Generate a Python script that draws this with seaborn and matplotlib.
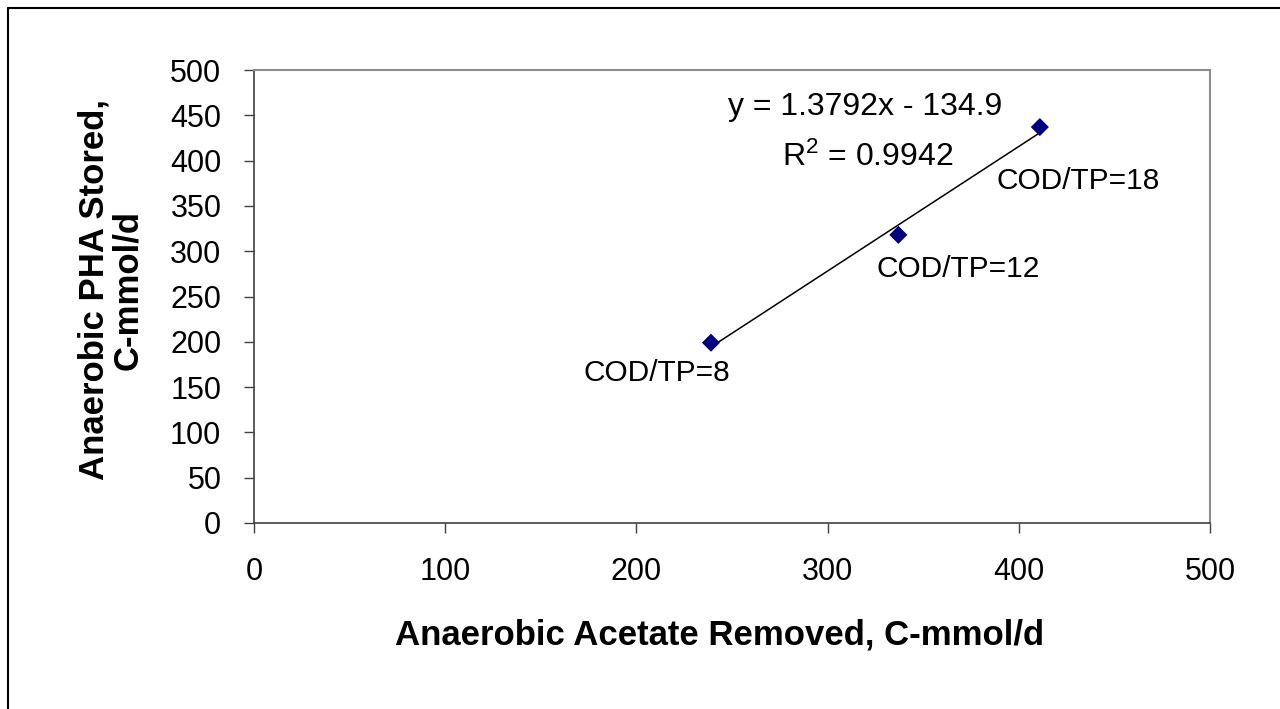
import matplotlib
matplotlib.use("Agg")
import matplotlib.pyplot as plt
import seaborn as sns
import pandas as pd
from matplotlib.lines import Line2D

# ---- data ----
acetate_removed = [239, 337, 411]
pha_stored = [199, 318, 437]
point_labels = ["COD/TP=8", "COD/TP=12", "COD/TP=18"]
x_ticks = [0, 100, 200, 300, 400, 500]
y_ticks = [0, 50, 100, 150, 200, 250, 300, 350, 400, 450, 500]
equation_text = "y = 1.3792x - 134.9"
r2_text = r"R$^{\mathrm{2}}$ = 0.9942"
x_label = "Anaerobic Acetate Removed, C-mmol/d"
y_label = "Anaerobic PHA Stored,\nC-mmol/d"

df = pd.DataFrame({"x": acetate_removed, "y": pha_stored, "label": point_labels})

sns.set_style("white")
plt.rcParams["font.family"] = ["Liberation Sans", "DejaVu Sans"]
plt.rcParams["mathtext.fontset"] = "custom"
plt.rcParams["mathtext.rm"] = "Liberation Sans"
plt.rcParams["mathtext.it"] = "Liberation Sans:italic"
plt.rcParams["mathtext.bf"] = "Liberation Sans:bold"
plt.rcParams["text.color"] = "black"
plt.rcParams["axes.labelcolor"] = "black"

fig = plt.figure(figsize=(12.8, 7.09), dpi=100)
ax = fig.add_axes([254 / 1280, 1 - 523 / 709, (1210 - 254) / 1280, (523 - 70) / 709])

sns.regplot(data=df, x="x", y="y", ax=ax, scatter=False, ci=None, truncate=True,
            line_kws=dict(color="black", lw=1.1))
sns.scatterplot(data=df, x="x", y="y", ax=ax, marker="D", s=85, color="#000080",
                edgecolor="none", zorder=5)

ax.set_xlim(0, 500)
ax.set_ylim(0, 500)
ax.set_xticks(x_ticks)
ax.set_yticks(y_ticks)
ax.tick_params(axis="both", labelsize=22, colors="black", length=7.5, width=1,
               direction="out")
ax.tick_params(axis="x", pad=17, color="#404040")
ax.tick_params(axis="y", pad=16, color="#404040")
ax.xaxis.set_ticks_position("bottom")
ax.yaxis.set_ticks_position("left")

for side in ["left", "bottom"]:
    ax.spines[side].set_color("#404040")
    ax.spines[side].set_linewidth(1.2)
for side in ["top", "right"]:
    ax.spines[side].set_color("#8c8c8c")
    ax.spines[side].set_linewidth(1.5)

ax.set_xlabel(x_label, fontsize=25, fontweight="bold")
ax.set_ylabel(y_label, fontsize=25, fontweight="bold", linespacing=1.0)
ax.xaxis.set_label_coords((720 - 254) / 956, -(635 - 523) / 453)
ax.yaxis.set_label_coords(-(254 - 111) / 956, (523 - 290) / 453)
ax.xaxis.label.set_va("center")
ax.yaxis.label.set_va("center")

offsets = [(-39, -22), (43, -24.5), (27.5, -39)]
for (xv, yv, lab), off in zip(zip(acetate_removed, pha_stored, point_labels), offsets):
    ax.annotate(lab, (xv, yv), xytext=off, textcoords="offset points",
                ha="center", va="center", fontsize=21.5)

ax.text(319.6, 459, equation_text, ha="center", va="center", fontsize=23)
ax.text(321, 404, r2_text, ha="center", va="center", fontsize=23)

# outer chart border
fig.add_artist(Line2D([8 / 1280, 8 / 1280], [1 - 8 / 709, 0], transform=fig.transFigure,
                      color="black", lw=1.5))
fig.add_artist(Line2D([8 / 1280, 1], [1 - 8 / 709, 1 - 8 / 709], transform=fig.transFigure,
                      color="black", lw=1.5))

fig.savefig("out.png", dpi=100)
